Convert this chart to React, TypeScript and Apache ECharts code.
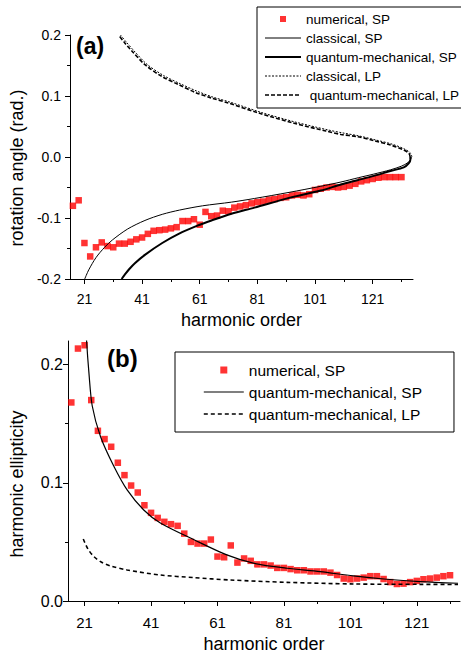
import React, { useEffect, useRef } from "react";
import * as echarts from "echarts";

const FONT = '"Liberation Sans", Arial, Helvetica, sans-serif';

// harmonic orders of the numerical points
const harmonics = [
  17, 19, 21, 23, 25, 27, 29, 31, 33, 35, 37, 39, 41, 43, 45, 47, 49, 51, 53, 55,
  57, 59, 61, 63, 65, 67, 69, 71, 73, 75, 77, 79, 81, 83, 85, 87, 89, 91, 93, 95,
  97, 99, 101, 103, 105, 107, 109, 111, 113, 115, 117, 119, 121, 123, 125, 127, 129, 131,
];

// (a) rotation angle, numerical SP
const rotationNumericalSP = [
  -0.08, -0.071, -0.141, -0.163, -0.148, -0.14, -0.146, -0.148, -0.142, -0.142,
  -0.139, -0.135, -0.132, -0.126, -0.121, -0.12, -0.119, -0.117, -0.115, -0.105,
  -0.105, -0.102, -0.111, -0.09, -0.097, -0.096, -0.088, -0.089, -0.083, -0.081,
  -0.079, -0.076, -0.074, -0.073, -0.07, -0.069, -0.067, -0.066, -0.063, -0.062,
  -0.063, -0.061, -0.054, -0.052, -0.05, -0.049, -0.05, -0.049, -0.047, -0.044,
  -0.04, -0.038, -0.036, -0.034, -0.033, -0.033, -0.033, -0.033,
];

// (a) curves: [harmonic order, rotation angle]
const rotationClassicalSP = [
  [21.1, -0.2], [22.5, -0.185], [25, -0.165], [28, -0.148], [30.7, -0.136], [36, -0.118],
  [42, -0.104], [48, -0.094], [54, -0.087], [62, -0.08], [72, -0.074], [80, -0.068],
  [92, -0.058], [103, -0.048], [110, -0.041], [116, -0.034], [121.4, -0.028], [127.2, -0.021],
  [131, -0.015], [133.3, -0.009], [134.3, -0.003], [134.5, 0.0],
];
const rotationQuantumSP = [
  [33.9, -0.2], [35, -0.193], [36.5, -0.184], [38.5, -0.174], [42.1, -0.16], [48, -0.141],
  [53.7, -0.126], [60, -0.113], [65.1, -0.104], [72, -0.093], [80, -0.083], [92, -0.067],
  [103, -0.055], [110, -0.045], [115.7, -0.038], [121.4, -0.031], [127.2, -0.023],
  [131.8, -0.017], [133.5, -0.0104], [134.1, -0.004], [134.0, 0.0],
];
const rotationClassicalLP = [
  [134.6, 0.0], [134.2, 0.006], [132.3, 0.0125], [127.8, 0.021], [122, 0.028], [116.3, 0.0345],
  [110.6, 0.0395], [105.4, 0.0445], [94, 0.0575], [82.4, 0.073], [71.5, 0.09], [65.7, 0.098],
  [60, 0.108], [54.3, 0.12], [48.5, 0.1335], [42.7, 0.152], [38.2, 0.174], [35.6, 0.188], [33.5, 0.2],
];
const rotationQuantumLP = [
  [134.0, 0.0], [133.6, 0.006], [131.8, 0.0115], [127.2, 0.0197], [121.4, 0.0268], [115.7, 0.0333],
  [110, 0.037], [104.8, 0.0425], [93.3, 0.056], [81.8, 0.0716], [70.9, 0.0885], [65.1, 0.0967],
  [59.4, 0.106], [53.7, 0.1186], [47.9, 0.132], [42.1, 0.151], [37.6, 0.173], [35, 0.187], [32.9, 0.1995],
];

// (b) harmonic ellipticity, numerical SP
const ellipticityNumericalSP = [
  0.168, 0.2136, 0.2164, 0.17, 0.144, 0.137, 0.1305, 0.117, 0.1065, 0.0977,
  0.0918, 0.081, 0.0746, 0.0703, 0.067, 0.065, 0.0636, 0.057, 0.05, 0.0486,
  0.0486, 0.052, 0.0376, 0.037, 0.047, 0.0325, 0.036, 0.034, 0.031, 0.031,
  0.03, 0.028, 0.028, 0.027, 0.026, 0.026, 0.025, 0.025, 0.025, 0.024,
  0.022, 0.019, 0.0184, 0.019, 0.0198, 0.021, 0.021, 0.0186, 0.016, 0.0144,
  0.0147, 0.016, 0.017, 0.0184, 0.019, 0.0198, 0.021, 0.0218,
];
const ellipticityQuantumSP = [
  [21.4, 0.235], [21.6, 0.22], [22.3, 0.193], [23.3, 0.165], [25.8, 0.139], [29.8, 0.114],
  [33.8, 0.094], [38.8, 0.077], [43.8, 0.066], [53.8, 0.052], [63.8, 0.039], [71.8, 0.032],
  [81.9, 0.0277], [91.9, 0.0249], [101.9, 0.0212], [111.9, 0.0184], [121.9, 0.0164], [133.4, 0.015],
];
const ellipticityQuantumLP = [
  [20.6, 0.0525], [22, 0.044], [23.8, 0.0376], [26, 0.033], [28.8, 0.0297], [33.8, 0.0263],
  [43.8, 0.022], [53.8, 0.0198], [64.8, 0.0178], [81.9, 0.0158], [101.9, 0.0144], [121.9, 0.0141],
  [133.4, 0.014],
];

// ticks
const xMajorTicks = [21, 41, 61, 81, 101, 121];
const xMinorTicks = [31, 51, 71, 91, 111, 131];
const ellMajorTicks = [0, 0.1, 0.2];
const ellMinorTicks = [0.05, 0.15];

const fmt1 = (v: number) => (Math.abs(v) < 1e-9 ? "0.0" : v.toFixed(1));

export default function App() {
  const ref = useRef<HTMLDivElement>(null);

  useEffect(() => {
    if (!ref.current) return;
    const chart = echarts.init(ref.current, null, { renderer: "svg" });
    const axisLine = { onZero: false, lineStyle: { color: "#000", width: 1 } };
    const labelStyle = { color: "#000", fontFamily: FONT, fontSize: 14 };
    const nameStyle = { color: "#000", fontFamily: FONT, fontSize: 18 };
    const noDot = { opacity: 0 };
    const black = "#000";

    const option: any = {
      animation: false,
      backgroundColor: "#fff",
      grid: [
        { left: 67, top: 35, width: 346, height: 244 },
        { left: 67, top: 341, width: 393, height: 260 },
      ],
      xAxis: [
        {
          gridIndex: 0, type: "value", min: 16, max: 135, position: "bottom",
          name: "harmonic order", nameLocation: "middle", nameGap: 32, nameTextStyle: nameStyle,
          axisLine, splitLine: { show: false },
          axisTick: { customValues: xMajorTicks, length: 5, lineStyle: { color: black } },
          axisLabel: { ...labelStyle, customValues: xMajorTicks, margin: 13 },
        },
        {
          gridIndex: 0, type: "value", min: 16, max: 135, position: "bottom",
          axisLine: { show: false, onZero: false }, splitLine: { show: false }, axisLabel: { show: false },
          axisTick: { customValues: xMinorTicks, length: 3, lineStyle: { color: black } },
        },
        {
          gridIndex: 1, type: "value", min: 16, max: 134, position: "bottom",
          name: "harmonic order", nameLocation: "middle", nameGap: 34, nameTextStyle: nameStyle,
          axisLine, splitLine: { show: false },
          axisTick: { customValues: xMajorTicks, length: 5, lineStyle: { color: black } },
          axisLabel: { ...labelStyle, fontSize: 15, customValues: xMajorTicks, margin: 14 },
        },
        {
          gridIndex: 1, type: "value", min: 16, max: 134, position: "bottom",
          axisLine: { show: false, onZero: false }, splitLine: { show: false }, axisLabel: { show: false },
          axisTick: { customValues: xMinorTicks, length: 3, lineStyle: { color: black } },
        },
      ],
      yAxis: [
        {
          gridIndex: 0, type: "value", min: -0.2, max: 0.2, interval: 0.1, position: "left",
          name: "rotation angle (rad.)", nameLocation: "middle", nameGap: 42,
          nameTextStyle: { ...nameStyle, padding: [0, 22, 0, 0] },
          axisLine: { show: true, ...axisLine }, splitLine: { show: false },
          axisTick: { show: true, length: 5, lineStyle: { color: black } },
          minorTick: { show: true, splitNumber: 2, length: 3, lineStyle: { color: black } },
          minorSplitLine: { show: false },
          axisLabel: { ...labelStyle, margin: 9, formatter: fmt1 },
        },
        {
          gridIndex: 1, type: "value", min: 0, max: 0.22, position: "left",
          name: "harmonic ellipticity", nameLocation: "middle", nameGap: 42,
          nameTextStyle: { ...nameStyle, padding: [0, 26, 0, 0] },
          axisLine: { show: true, ...axisLine }, splitLine: { show: false },
          axisTick: { show: true, customValues: ellMajorTicks, length: 5, lineStyle: { color: black } },
          axisLabel: { ...labelStyle, fontSize: 16, customValues: ellMajorTicks, margin: 5, formatter: fmt1 },
        },
        {
          gridIndex: 1, type: "value", min: 0, max: 0.22, position: "left",
          axisLine: { show: false, onZero: false }, splitLine: { show: false }, axisLabel: { show: false },
          axisTick: { show: true, customValues: ellMinorTicks, length: 3, lineStyle: { color: black } },
        },
      ],
      legend: [
        {
          left: 257, top: 7, orient: "vertical",
          padding: [5, 16, 6, 7], itemWidth: 36, itemHeight: 6, itemGap: 5,
          borderColor: black, borderWidth: 1, backgroundColor: "#fff",
          textStyle: { color: black, fontFamily: FONT, fontSize: 13.5 },
          data: [
            { name: "numerical, SP", icon: "path://M0,0M36,6M15,0h6v6h-6z" },
            { name: "classical, SP", itemStyle: noDot, lineStyle: { color: black, width: 1 } },
            { name: "quantum-mechanical, SP", itemStyle: noDot, lineStyle: { color: black, width: 2 } },
            { name: "classical, LP", itemStyle: noDot, lineStyle: { color: black, width: 1, type: [2, 1.5] } },
            { name: " quantum-mechanical, LP", itemStyle: noDot, lineStyle: { color: black, width: 1.6, type: [4, 2] } },
          ],
        },
        {
          left: 175, top: 352, orient: "vertical",
          padding: [10, 32, 10, 28], itemWidth: 40, itemHeight: 7, itemGap: 6,
          borderColor: black, borderWidth: 1, backgroundColor: "#fff",
          textStyle: { color: black, fontFamily: FONT, fontSize: 15.5 },
          data: [
            { name: "numerical, SP", icon: "path://M0,0M40,7M16.5,0h7v7h-7z" },
            { name: "quantum-mechanical, SP", itemStyle: noDot, lineStyle: { color: black, width: 1.2, type: "solid" } },
            { name: "quantum-mechanical, LP", itemStyle: noDot, lineStyle: { color: black, width: 1.6, type: [4, 3] } },
          ],
        },
      ],
      graphic: [
        { type: "text", left: 76, top: 34, style: { text: "(a)", font: `bold 23px ${FONT}`, fill: black } },
        { type: "text", left: 107, top: 346, style: { text: "(b)", font: `bold 24px ${FONT}`, fill: black } },
      ],
      series: [
        {
          name: "numerical, SP", type: "scatter", xAxisIndex: 0, yAxisIndex: 0,
          symbol: "rect", symbolSize: 6.5, itemStyle: { color: "#ff0000" },
          data: harmonics.map((h, i) => [h, rotationNumericalSP[i]]),
        },
        {
          name: "classical, SP", type: "line", xAxisIndex: 0, yAxisIndex: 0,
          symbol: "none", smooth: 0.3, lineStyle: { color: black, width: 1 },
          data: rotationClassicalSP,
        },
        {
          name: "quantum-mechanical, SP", type: "line", xAxisIndex: 0, yAxisIndex: 0,
          symbol: "none", smooth: 0.3, lineStyle: { color: black, width: 2 },
          data: rotationQuantumSP,
        },
        {
          name: "classical, LP", type: "line", xAxisIndex: 0, yAxisIndex: 0,
          symbol: "none", smooth: 0.3, lineStyle: { color: black, width: 1, type: [2, 1.5] },
          data: rotationClassicalLP,
        },
        {
          name: " quantum-mechanical, LP", type: "line", xAxisIndex: 0, yAxisIndex: 0,
          symbol: "none", smooth: 0.3, lineStyle: { color: black, width: 1.6, type: [4, 2] },
          data: rotationQuantumLP,
        },
        {
          name: "numerical, SP", type: "scatter", xAxisIndex: 2, yAxisIndex: 1,
          symbol: "rect", symbolSize: 6.5, itemStyle: { color: "#ff0000" },
          data: harmonics.map((h, i) => [h, ellipticityNumericalSP[i]]),
        },
        {
          name: "quantum-mechanical, SP", type: "line", xAxisIndex: 2, yAxisIndex: 1,
          symbol: "none", smooth: 0.3, lineStyle: { color: black, width: 1.2 },
          data: ellipticityQuantumSP,
        },
        {
          name: "quantum-mechanical, LP", type: "line", xAxisIndex: 2, yAxisIndex: 1,
          symbol: "none", smooth: 0.3, lineStyle: { color: black, width: 1.6, type: [4, 3] },
          data: ellipticityQuantumLP,
        },
      ],
    };
    chart.setOption(option);
    return () => chart.dispose();
  }, []);

  return (
    <div
      ref={ref}
      style={{ position: "fixed", left: 0, top: 0, width: 461, height: 656, background: "#fff" }}
    />
  );
}
